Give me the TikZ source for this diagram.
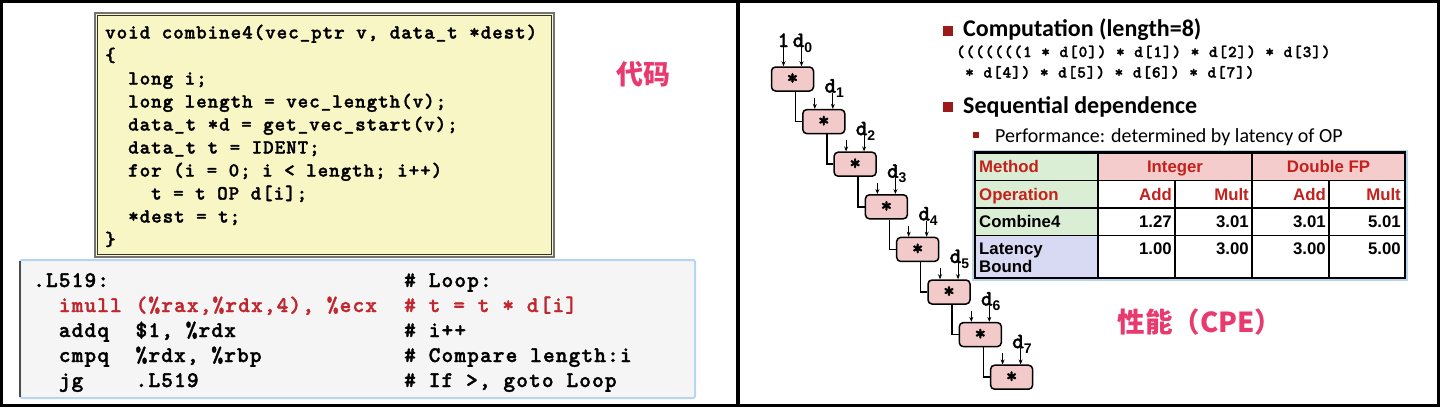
\documentclass[tikz,border=0pt]{standalone}
\usepackage{fontspec}
\usetikzlibrary{arrows.meta}
\newfontfamily\codefont{lmmonolt10-bold}[Extension=.otf, LetterSpace=5, FakeBold=1.6]
\newfontfamily\calib{Carlito}
\newfontfamily\arialf{Liberation Sans}
\newfontfamily\cjk{Noto Sans CJK SC}
\definecolor{codeyellow}{HTML}{F9F6C6}
\definecolor{asmfill}{HTML}{F5F5F5}
\definecolor{asmborder}{HTML}{B9D5EE}
\definecolor{asmred}{HTML}{C0262D}
\definecolor{cjkpink}{HTML}{E83A6E}
\definecolor{bulletred}{HTML}{9C1A1A}
\definecolor{opfill}{HTML}{F2CACA}
\definecolor{tgreen}{HTML}{DAEED6}
\definecolor{tpink}{HTML}{F4CCCC}
\definecolor{tlav}{HTML}{D8D9F3}
\definecolor{tred}{HTML}{C4211D}
\begin{document}
\begin{tikzpicture}[x=1pt,y=-1pt,
  codel/.style={anchor=base west, inner sep=0pt, font=\codefont\fontsize{20}{20}\selectfont},
  asml/.style={anchor=base west, inner sep=0pt, font=\codefont\fontsize{22.3}{22.3}\selectfont},
  exprl/.style={anchor=base west, inner sep=0pt, font=\codefont\fontsize{16.6}{16.6}\selectfont},
  opbox/.style={draw=black, line width=1.5pt, fill=opfill, rounded corners=4pt,
    minimum width=42pt, minimum height=24pt, inner sep=0pt,
    font=\codefont\fontsize{22}{22}\selectfont},
  arr/.style={line width=1pt, -{Stealth[length=5pt,width=4pt]}},
  chain/.style={line width=1.5pt},
  lbl/.style={anchor=base west, inner sep=0pt, font=\codefont\fontsize{22}{22}\selectfont},
  bhead/.style={anchor=base west, inner sep=0pt, font=\calib\bfseries\fontsize{24}{24}\selectfont},
  bsub/.style={anchor=base west, inner sep=0pt, font=\calib\fontsize{20}{20}\selectfont},
  tl/.style={anchor=base west, inner sep=0pt, font=\arialf\bfseries\fontsize{16.8}{16.8}\selectfont},
  tr/.style={anchor=base east, inner sep=0pt, font=\arialf\bfseries\fontsize{16.8}{16.8}\selectfont},
  tc/.style={anchor=base, inner sep=0pt, font=\arialf\bfseries\fontsize{16.8}{16.8}\selectfont},
  grid/.style={line width=1.2pt, draw=black}
]
\newcommand\subfont{\arialf\bfseries\fontsize{14}{14}\selectfont}
\useasboundingbox (0,0) rectangle (1440,407);
\fill[white] (0,0) rectangle (1440,407);

% ---------- left panel: C code ----------
\draw[draw=black!55, line width=1.3pt, fill=codeyellow] (95,13) rectangle (554,257);
\draw[draw=black!80, line width=1pt] (97.5,15.5) rectangle (551.5,254.5);
\node[codel] (c1) at (105,38.5) {void combine4(vec\_ptr v, data\_t *dest)};
\node[codel] (c2) at (105,61.5) {\{};
\node[codel] (c3) at (128,84.5) {long i;};
\node[codel] (c4) at (128,107.5) {long length = vec\_length(v);};
\node[codel] (c5) at (128,130.5) {data\_t *d = get\_vec\_start(v);};
\node[codel] (c6) at (128,153.5) {data\_t t = IDENT;};
\node[codel] (c7) at (128,176.5) {for (i = 0; i < length; i++)};
\node[codel] (c8) at (151,199.5) {t = t OP d[i];};
\node[codel] (c9) at (128,222.5) {*dest = t;};
\node[codel] (c10) at (105,245.5) {\}};

\node[font=\cjk\bfseries\fontsize{27}{27}\selectfont, text=cjkpink, inner sep=0pt] (daima) at (643,74) {代码};

% ---------- left panel: assembly ----------
\draw[draw=asmborder, line width=2pt, fill=asmfill, rounded corners=2pt] (20,260) rectangle (695,398);
\draw[draw=black!70, line width=2pt] (20,261) -- (20,397);
\node[asml] (a1) at (33,287) {.L519:};
\node[asml] (a1c) at (404,287) {\# Loop:};
\node[asml, text=asmred] (a2m) at (58.6,312) {imull};
\node[asml, text=asmred] (a2o) at (135.4,312) {(\%rax,\%rdx,4), \%ecx};
\node[asml, text=asmred] (a2c) at (404,312) {\# t = t * d[i]};
\node[asml] (a3m) at (58.6,337) {addq};
\node[asml] (a3o) at (135.4,337) {\$1, \%rdx};
\node[asml] (a3c) at (404,337) {\# i++};
\node[asml] (a4m) at (58.6,362) {cmpq};
\node[asml] (a4o) at (135.4,362) {\%rdx, \%rbp};
\node[asml] (a4c) at (404,362) {\# Compare length:i};
\node[asml] (a5m) at (58.6,387) {jg};
\node[asml] (a5o) at (135.4,387) {.L519};
\node[asml] (a5c) at (404,387) {\# If >, goto Loop};

% ---------- right panel: dependency chain ----------
\foreach \k in {0,...,7} {
  \node[opbox] (b\k) at ({792.5+31.3*\k},{79+42.6*\k}) {\raisebox{-4pt}{*}};
}
\foreach \k [evaluate=\k as \n using int(\k+1)] in {0,...,6} {
  \draw[chain] ([xshift=3pt]b\k.south) |- (b\n.west);
}
% inputs of first box
\draw[arr] ([xshift=-9pt,yshift=19pt]b0.north) -- ([xshift=-9pt]b0.north);
\draw[arr] ([xshift=9pt,yshift=19pt]b0.north) -- ([xshift=9pt]b0.north);
\node[lbl] (one) at ([xshift=-15pt,yshift=32pt]b0.center) {1};
\node[lbl] (d0) at ([xshift=0pt,yshift=32pt]b0.center) {d\raisebox{-5pt}{\subfont 0}};
\foreach \k in {1,...,7} {
  \draw[arr] ([xshift=-9pt,yshift=11pt]b\k.north) -- ([xshift=-9pt]b\k.north);
  \draw[arr] ([xshift=9pt,yshift=16pt]b\k.north) -- ([xshift=9pt]b\k.north);
  \node[lbl] (d\k) at ([xshift=0.5pt,yshift=29pt]b\k.center) {d\raisebox{-5pt}{\subfont \k}};
}

% ---------- right panel: text ----------
\fill[bulletred] (943,26) rectangle (953,36);
\node[bhead] (comp) at (963,36) {Computation (length=8)};
\node[exprl] (e1) at (956,57) {(((((((1 * d[0]) * d[1]) * d[2]) * d[3])};
\node[exprl] (e2) at (965,77.5) {* d[4]) * d[5]) * d[6]) * d[7])};
\fill[bulletred] (943,102) rectangle (953,112);
\node[bhead] (seq) at (963,113) {Sequential dependence};
\fill[bulletred] (973,131.5) rectangle (979,137.5);
\node[bsub] (perf) at (995,142) {Performance: determined by latency of OP};

% ---------- table ----------
\draw[draw=asmborder, line width=6pt] (975,152.7) rectangle (1405,278);
\fill[white] (975,152.7) rectangle (1405,278);
\fill[tgreen] (975,152.7) rectangle (1098,235.7);
\fill[tlav] (975,235.7) rectangle (1098,278);
\fill[tpink] (1098,152.7) rectangle (1405,180.7);
\draw[grid] (975,180.7) -- (1405,180.7);
\draw[grid] (975,208) -- (1405,208);
\draw[grid] (975,235.7) -- (1405,235.7);
\draw[grid] (1098,152.7) -- (1098,278);
\draw[grid] (1252,152.7) -- (1252,278);
\draw[grid] (1175,180.7) -- (1175,278);
\draw[grid] (1329,180.7) -- (1329,278);
\draw[line width=2.5pt] (975,152.7) rectangle (1405,278);

\node[tl, text=tred] (tmethod) at (979,172.5) {Method};
\node[tc, text=tred] (tint) at (1175,172.5) {Integer};
\node[tc, text=tred] (tdbl) at (1328.5,172.5) {Double FP};
\node[tl, text=tred] (top) at (979,200) {Operation};
\node[tr, text=tred] (tadd1) at (1172,200) {Add};
\node[tr, text=tred] (tmul1) at (1249,200) {Mult};
\node[tr, text=tred] (tadd2) at (1326,200) {Add};
\node[tr, text=tred] (tmul2) at (1401,200) {Mult};
\node[tl] (tcomb) at (979,227.5) {Combine4};
\node[tr] (n11) at (1172,227.5) {1.27};
\node[tr] (n12) at (1249,227.5) {3.01};
\node[tr] (n13) at (1326,227.5) {3.01};
\node[tr] (n14) at (1401,227.5) {5.01};
\node[tl] (tlat) at (979,254.5) {Latency};
\node[tl] (tbound) at (979,272.5) {Bound};
\node[tr] (n21) at (1172,254.5) {1.00};
\node[tr] (n22) at (1249,254.5) {3.00};
\node[tr] (n23) at (1326,254.5) {3.00};
\node[tr] (n24) at (1401,254.5) {5.00};

\node[font=\cjk\bfseries\fontsize{27.5}{27.5}\selectfont, text=cjkpink, inner sep=0pt] (perfcn) at (1200,322) {性能（CPE）};

% ---------- frame ----------
\draw[line width=3pt] (1.5,1.5) rectangle (1438.5,405.5);
\draw[line width=4pt] (738,0) -- (738,407);
\end{tikzpicture}
\end{document}
